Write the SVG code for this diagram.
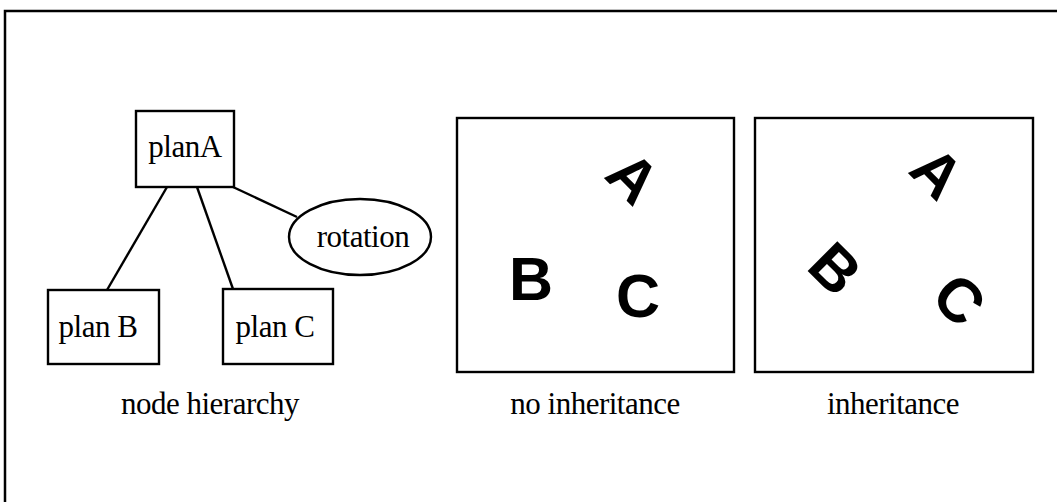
<svg xmlns="http://www.w3.org/2000/svg" width="1057" height="502" viewBox="0 0 1057 502">
<style>
.frame{fill:none;stroke:#000;stroke-width:2.5}
.box{fill:#fff;stroke:#000;stroke-width:2.4}
.edge{stroke:#000;stroke-width:2.4;fill:none}
.lbl{font-family:"Liberation Serif","Times New Roman",serif;font-size:31px;letter-spacing:-0.5px;fill:#000}
.big{font-family:"Liberation Sans",Arial,sans-serif;font-weight:bold;font-size:61px;fill:#000}
</style>
<rect width="1057" height="502" fill="#fff"/>
<path class="frame" d="M5,502 V11 H1057"/>
<g id="connectors">
<line class="edge" x1="167" y1="187" x2="107" y2="290"/>
<line class="edge" x1="197" y1="187" x2="233" y2="289"/>
<line class="edge" x1="233" y1="187" x2="297" y2="217"/>
</g>
<g id="planA">
<rect class="box" x="136" y="111" width="98" height="76"/>
<text class="lbl" x="185" y="157" text-anchor="middle">planA</text>
</g>
<g id="planB">
<rect class="box" x="48" y="290" width="111" height="74"/>
<text class="lbl" x="98" y="337" text-anchor="middle">plan B</text>
</g>
<g id="planC">
<rect class="box" x="223" y="289" width="110" height="75"/>
<text class="lbl" x="275" y="337" text-anchor="middle">plan C</text>
</g>
<g id="rotation">
<ellipse class="box" cx="360" cy="237" rx="71" ry="38"/>
<text class="lbl" x="363" y="247" text-anchor="middle">rotation</text>
</g>
<text class="lbl" x="210" y="414" text-anchor="middle">node hierarchy</text>
<g id="noInheritance">
<rect class="box" x="457" y="118" width="277" height="254"/>
<g transform="translate(634,177) rotate(45)"><text class="big" x="0" y="22" text-anchor="middle">A</text></g>
<text class="big" x="531" y="300" text-anchor="middle">B</text>
<text class="big" x="638" y="317" text-anchor="middle">C</text>
</g>
<text class="lbl" x="595" y="414" text-anchor="middle">no inheritance</text>
<g id="inheritance">
<rect class="box" x="755" y="118" width="278" height="254"/>
<g transform="translate(938,172) rotate(45)"><text class="big" x="0" y="22" text-anchor="middle">A</text></g>
<g transform="translate(836,268) rotate(45)"><text class="big" x="0" y="22" text-anchor="middle">B</text></g>
<g transform="translate(960,299) rotate(45)"><text class="big" x="0" y="22" text-anchor="middle">C</text></g>
</g>
<text class="lbl" x="893" y="414" text-anchor="middle">inheritance</text>
</svg>
